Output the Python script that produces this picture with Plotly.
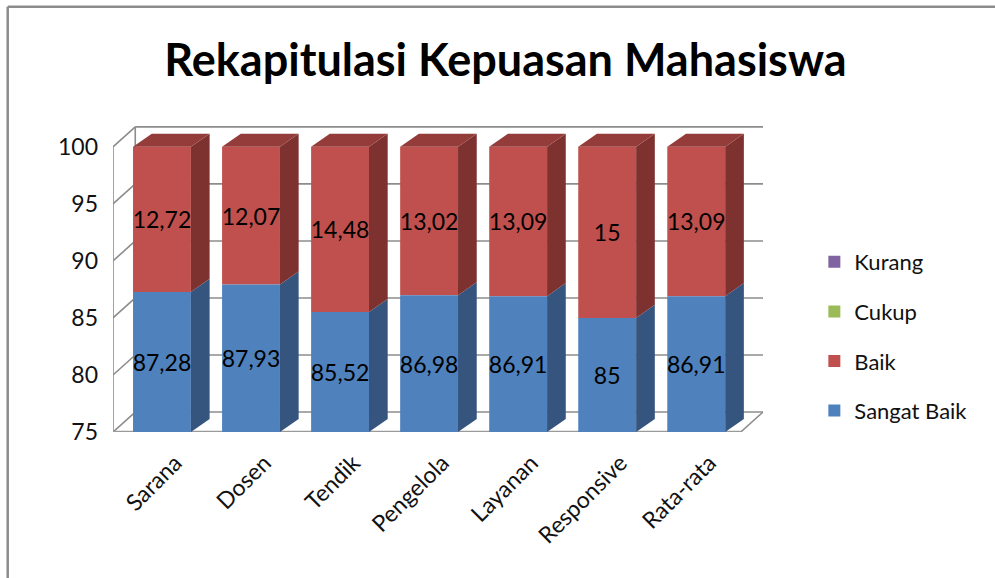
import plotly.graph_objects as go

categories = ["Sarana", "Dosen", "Tendik", "Pengelola", "Layanan", "Responsive", "Rata-rata"]
sangat_baik = [87.28, 87.93, 85.52, 86.98, 86.91, 85.0, 86.91]
baik = [12.72, 12.07, 14.48, 13.02, 13.09, 15.0, 13.09]
cukup = [0, 0, 0, 0, 0, 0, 0]
kurang = [0, 0, 0, 0, 0, 0, 0]
y_ticks = [75, 80, 85, 90, 95, 100]

FONT = "Lato"
Y0, Y1 = 75, 100
W = 0.65          # bar width (category units)
BDX, BDY = 0.21, 1.15   # bar depth offset
WDX, WDY = 0.25, 1.75   # wall depth offset
XL, XR = -0.55, 6.75

xs = list(range(len(categories)))

def fmt(v):
    return f"{v:g}".replace(".", ",")

fig = go.Figure()

# front faces (bars)
fig.add_trace(go.Bar(name="Kurang", x=xs, y=kurang, base=[a + b for a, b in zip(sangat_baik, baik)],
                     width=W, marker=dict(color="#8064A2", line=dict(width=0)), legendgroup="k"))
fig.add_trace(go.Bar(name="Cukup", x=xs, y=cukup, base=[a + b for a, b in zip(sangat_baik, baik)],
                     width=W, marker=dict(color="#9BBB59", line=dict(width=0)), legendgroup="c"))
fig.add_trace(go.Bar(name="Baik", x=xs, y=baik, base=sangat_baik, width=W,
                     marker=dict(color="#C0504D", line=dict(width=0)), legendgroup="b",
                     text=[fmt(v) for v in baik], textposition="inside", insidetextanchor="middle",
                     textangle=0, constraintext="none",
                     textfont=dict(family=FONT, size=23, color="#000000")))
fig.add_trace(go.Bar(name="Sangat Baik", x=xs, y=[v - Y0 for v in sangat_baik], base=[Y0] * len(xs),
                     width=W, marker=dict(color="#4F81BD", line=dict(width=0)), legendgroup="s",
                     text=[fmt(v) for v in sangat_baik], textposition="inside", insidetextanchor="middle",
                     textangle=0, constraintext="none",
                     textfont=dict(family=FONT, size=23, color="#000000")))

# side and top faces for 3D look
def poly(px, py, color):
    fig.add_trace(go.Scatter(x=px, y=py, fill="toself", fillcolor=color, mode="lines",
                             line=dict(width=0, color=color), showlegend=False, hoverinfo="skip"))

for i, (sb, b) in enumerate(zip(sangat_baik, baik)):
    r = i + W / 2
    l = i - W / 2
    top = sb + b
    poly([r, r + BDX, r + BDX, r, r], [Y0, Y0 + BDY, sb + BDY, sb, Y0], "#35557F")
    poly([r, r + BDX, r + BDX, r, r], [sb, sb + BDY, top + BDY, top, sb], "#7E3230")
    poly([l, l + BDX, r + BDX, r, l], [top, top + BDY, top + BDY, top, top], "#943C3A")

# walls / gridlines as shapes below traces
shapes = []
gl = dict(color="#8C8C8C", width=1.6)
for v in y_ticks:
    shapes.append(dict(type="line", xref="x", yref="y", x0=XL + WDX, x1=XR, y0=v + WDY, y1=v + WDY,
                       line=gl, layer="below"))
    shapes.append(dict(type="line", xref="x", yref="y", x0=XL, x1=XL + WDX, y0=v, y1=v + WDY,
                       line=gl, layer="below"))
shapes.append(dict(type="line", xref="x", yref="y", x0=XL, x1=XL, y0=Y0, y1=Y1, line=gl, layer="below"))
shapes.append(dict(type="line", xref="x", yref="y", x0=XL + WDX, x1=XL + WDX, y0=Y0 + WDY, y1=Y1 + WDY,
                   line=gl, layer="below"))
shapes.append(dict(type="line", xref="x", yref="y", x0=XL, x1=XR - WDX, y0=Y0, y1=Y0,
                   line=dict(color="#9A9A9A", width=2.5), layer="below"))
shapes.append(dict(type="line", xref="x", yref="y", x0=XR - WDX, x1=XR, y0=Y0, y1=Y0 + WDY,
                   line=gl, layer="below"))
# outer frame (top and left)
shapes.append(dict(type="line", xref="paper", yref="paper", x0=-0.162, x1=1.5, y0=1.381, y1=1.381,
                   line=dict(color="#8C8C8C", width=2.5)))
shapes.append(dict(type="line", xref="paper", yref="paper", x0=-0.162, x1=-0.162, y0=1.381, y1=-0.5,
                   line=dict(color="#8C8C8C", width=2.5)))

fig.update_layout(
    width=995, height=578,
    margin=dict(l=113, r=232, t=124, b=146),
    paper_bgcolor="white", plot_bgcolor="white",
    barmode="overlay",
    shapes=shapes,
    title=dict(text="<b>Rekapitulasi Kepuasan Mahasiswa</b>", x=0.508, xanchor="center",
               y=0.895, yanchor="middle", font=dict(family=FONT, size=45, color="#000000")),
    xaxis=dict(range=[XL, XR], tickvals=[i + 0.15 for i in xs], ticktext=categories, tickangle=-45,
               showgrid=False, zeroline=False, showline=False, ticks="", ticklabelstandoff=12,
               tickfont=dict(family=FONT, size=23, color="#111111")),
    yaxis=dict(range=[Y0, 102], tickvals=y_ticks, showgrid=False, zeroline=False, showline=False,
               ticks="", ticklabelstandoff=14,
               tickfont=dict(family=FONT, size=23, color="#111111")),
    legend=dict(x=1.079, xanchor="left", y=0.31, yanchor="middle", tracegroupgap=18,
                font=dict(family=FONT, size=22, color="#111111"), traceorder="grouped",
                itemclick=False),
    showlegend=True,
)

fig.write_html("out.html")
